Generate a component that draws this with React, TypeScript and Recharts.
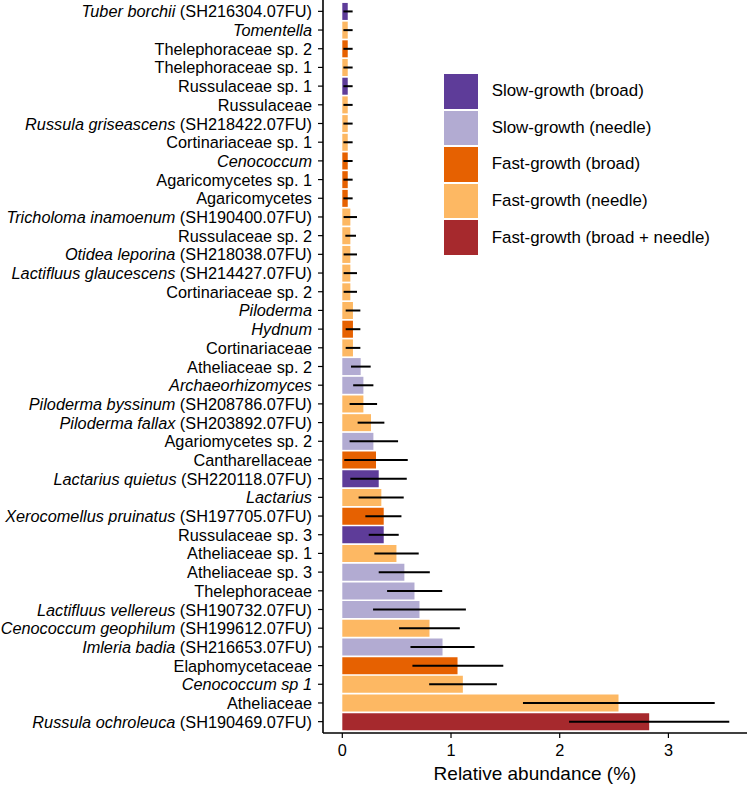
import React from "react";
import { BarChart, Bar, XAxis, YAxis, Cell, ErrorBar, Legend } from "recharts";

// Italic (taxon) part and plain part of each category label, top to bottom
const italicPart = [
  "Tuber borchii", "Tomentella", "", "", "", "", "Russula griseascens", "", "Cenococcum", "", "",
  "Tricholoma inamoenum", "", "Otidea leporina", "Lactifluus glaucescens", "", "Piloderma", "Hydnum", "",
  "", "Archaeorhizomyces", "Piloderma byssinum", "Piloderma fallax", "", "", "Lactarius quietus", "Lactarius",
  "Xerocomellus pruinatus", "", "", "", "", "Lactifluus vellereus", "Cenococcum geophilum", "Imleria badia",
  "", "Cenococcum sp 1", "", "Russula ochroleuca",
];
const plainPart = [
  " (SH216304.07FU)", "", "Thelephoraceae sp. 2", "Thelephoraceae sp. 1", "Russulaceae sp. 1", "Russulaceae",
  " (SH218422.07FU)", "Cortinariaceae sp. 1", "", "Agaricomycetes sp. 1", "Agaricomycetes",
  " (SH190400.07FU)", "Russulaceae sp. 2", " (SH218038.07FU)", " (SH214427.07FU)", "Cortinariaceae sp. 2",
  "", "", "Cortinariaceae", "Atheliaceae sp. 2", "", " (SH208786.07FU)", " (SH203892.07FU)",
  "Agariomycetes sp. 2", "Cantharellaceae", " (SH220118.07FU)", "", " (SH197705.07FU)", "Russulaceae sp. 3",
  "Atheliaceae sp. 1", "Atheliaceae sp. 3", "Thelephoraceae", " (SH190732.07FU)", " (SH199612.07FU)",
  " (SH216653.07FU)", "Elaphomycetaceae", "", "Atheliaceae", " (SH190469.07FU)",
];

// Mean relative abundance (%)
const meanValues = [
  0.05, 0.05, 0.05, 0.05, 0.05, 0.05, 0.05, 0.05, 0.05, 0.05, 0.05,
  0.074, 0.074, 0.074, 0.074, 0.074, 0.098, 0.098, 0.098,
  0.169, 0.194, 0.194, 0.264, 0.286, 0.31, 0.335, 0.359, 0.381, 0.381,
  0.498, 0.571, 0.664, 0.71, 0.802, 0.922, 1.06, 1.109, 2.541, 2.823,
];
// Error bar lower and upper ends
const lowerValues = [
  0.01, 0.01, 0.01, 0.01, 0.01, 0.01, 0.01, 0.01, 0.01, 0.01, 0.01,
  0.012, 0.028, 0.012, 0.012, 0.012, 0.031, 0.031, 0.031,
  0.08, 0.1, 0.067, 0.141, 0.067, 0.018, 0.074, 0.15, 0.212, 0.243,
  0.295, 0.335, 0.412, 0.283, 0.522, 0.627, 0.645, 0.799, 1.662, 2.086,
];
const upperValues = [
  0.095, 0.095, 0.095, 0.095, 0.095, 0.095, 0.095, 0.095, 0.095, 0.095, 0.095,
  0.135, 0.126, 0.135, 0.135, 0.135, 0.166, 0.166, 0.166,
  0.261, 0.286, 0.32, 0.387, 0.513, 0.602, 0.593, 0.565, 0.544, 0.519,
  0.703, 0.805, 0.919, 1.137, 1.081, 1.217, 1.481, 1.422, 3.426, 3.56,
];
// Group index of each category
const groupIndex = [
  0, 3, 2, 3, 0, 3, 3, 3, 2, 2, 2,
  3, 3, 3, 3, 3, 3, 2, 3,
  1, 1, 3, 3, 1, 2, 0, 3, 2, 0,
  3, 1, 1, 1, 3, 1, 2, 3, 3, 4,
];

const groupNames = [
  "Slow-growth (broad)",
  "Slow-growth (needle)",
  "Fast-growth (broad)",
  "Fast-growth (needle)",
  "Fast-growth (broad + needle)",
];
const groupColors = ["#5e3c99", "#b2abd2", "#e66101", "#fdb863", "#a6292d"];

const xTicks = [0, 1, 2, 3];

const FONT = "'Liberation Sans', Arial, Helvetica, sans-serif";

const data = meanValues.map((v, i) => ({
  name: italicPart[i] + plainPart[i],
  value: v,
  err: [v - lowerValues[i], upperValues[i] - v],
  group: groupIndex[i],
}));

const YTick = (props: any) => {
  const { x, y, payload } = props;
  const idx = data.findIndex((d) => d.name === payload.value);
  const it = idx >= 0 ? italicPart[idx] : "";
  const pl = idx >= 0 ? plainPart[idx] : String(payload.value);
  return (
    <text
      x={x}
      y={y}
      textAnchor="end"
      dominantBaseline="central"
      fontSize={16.3}
      fontFamily={FONT}
      fill="#000"
      style={{ whiteSpace: "pre" }}
    >
      {it ? <tspan fontStyle="italic">{it}</tspan> : null}
      {pl ? <tspan>{pl}</tspan> : null}
    </text>
  );
};

const LegendContent = () => (
  <div style={{ fontFamily: FONT, fontSize: 16.9, color: "#000" }}>
    {groupNames.map((g, i) => (
      <div key={g} style={{ display: "flex", alignItems: "center", height: 36.6 }}>
        <div
          style={{
            width: 34,
            height: 34.6,
            background: groupColors[i],
            marginRight: 13.7,
            flex: "none",
          }}
        />
        <span style={{ whiteSpace: "nowrap" }}>{g}</span>
      </div>
    ))}
  </div>
);

export default function App() {
  return (
    <div style={{ position: "absolute", left: 0, top: 0, width: 747, height: 785, background: "#fff" }}>
      <BarChart
        width={747}
        height={785}
        data={data}
        layout="vertical"
        margin={{ top: 0, right: 0, bottom: 0, left: 0 }}
        barCategoryGap="5%"
      >
        <XAxis
          type="number"
          domain={[-0.1776, 3.723]}
          allowDataOverflow
          ticks={xTicks}
          height={52}
          tickSize={5}
          tickMargin={6}
          axisLine={{ stroke: "#000", strokeWidth: 1.6 }}
          tickLine={{ stroke: "#000", strokeWidth: 1.2 }}
          tick={{ fill: "#000", fontSize: 16.3, fontFamily: FONT }}
          label={{
            value: "Relative abundance (%)",
            position: "insideBottom",
            offset: 5,
            fill: "#000",
            fontSize: 19,
            fontFamily: FONT,
          }}
        />
        <YAxis
          type="category"
          dataKey="name"
          width={323}
          interval={0}
          padding={{ top: 2, bottom: 2 }}
          tickSize={5}
          tickMargin={6}
          axisLine={{ stroke: "#000", strokeWidth: 1.6 }}
          tickLine={{ stroke: "#000", strokeWidth: 1.2 }}
          tick={<YTick />}
        />
        <Legend
          layout="vertical"
          align="center"
          verticalAlign="middle"
          content={<LegendContent />}
          wrapperStyle={{ left: 444, top: 73, width: 300, height: 185 }}
        />
        <Bar dataKey="value" isAnimationActive={false}>
          {data.map((d, i) => (
            <Cell key={i} fill={groupColors[d.group]} />
          ))}
          <ErrorBar dataKey="err" direction="x" width={0} stroke="#000" strokeWidth={2} isAnimationActive={false} />
        </Bar>
      </BarChart>
    </div>
  );
}
